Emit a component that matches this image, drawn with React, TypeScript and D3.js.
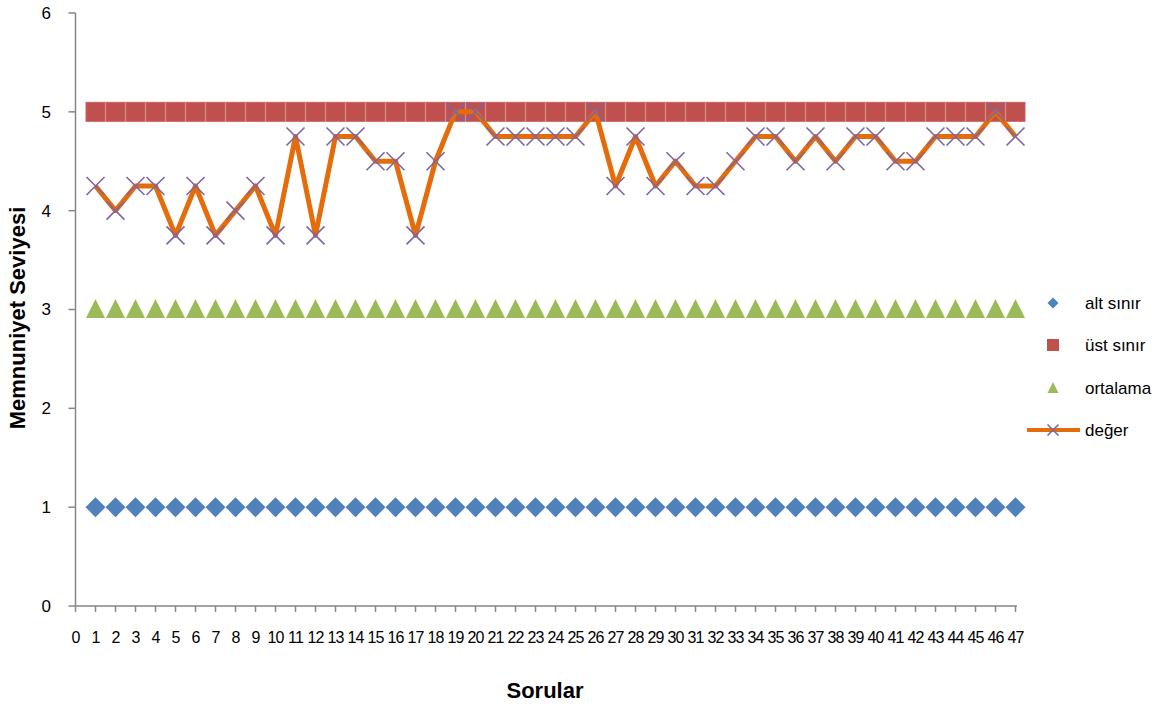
import { useEffect } from "react";
import * as d3 from "d3";

const questions = d3.range(1, 48);
const xTickLabels = d3.range(0, 48);
const yTickLabels = [0, 1, 2, 3, 4, 5, 6];

const altSinir = questions.map(() => 1);
const ustSinir = questions.map(() => 5);
const ortalama = questions.map(() => 3);
const deger = [
  4.25, 4.0, 4.25, 4.25, 3.75, 4.25, 3.75, 4.0, 4.25, 3.75,
  4.75, 3.75, 4.75, 4.75, 4.5, 4.5, 3.75, 4.5, 5.0, 5.0,
  4.75, 4.75, 4.75, 4.75, 4.75, 5.0, 4.25, 4.75, 4.25, 4.5,
  4.25, 4.25, 4.5, 4.75, 4.75, 4.5, 4.75, 4.5, 4.75, 4.75,
  4.5, 4.5, 4.75, 4.75, 4.75, 5.0, 4.75,
];

const seriesNames = ["alt sınır", "üst sınır", "ortalama", "değer"];

const BLUE = "#4F81BD";
const RED = "#C0504D";
const GREEN = "#9BBB59";
const ORANGE = "#E46C0A";
const PURPLE = "#8064A2";
const AXIS = "#868686";
const FONT = "'Liberation Sans', Arial, sans-serif";

const W = 1170;
const H = 708;

export default function App() {
  useEffect(() => {
    document.body.style.margin = "0";
  }, []);

  const x = d3.scaleLinear().domain([0, 47]).range([75.5, 1015.5]);
  const y = d3.scaleLinear().domain([0, 6]).range([606, 13]);

  const line = d3
    .line<number>()
    .x((_, i) => x(questions[i]))
    .y((d) => y(d));

  const diamond = (cx: number, cy: number, r: number) =>
    `M${cx},${cy - r}L${cx + r},${cy}L${cx},${cy + r}L${cx - r},${cy}Z`;
  const triangle = (cx: number, cy: number, s: number) =>
    `M${cx},${cy - s * 0.55}L${cx + s / 2},${cy + s * 0.45}L${cx - s / 2},${cy + s * 0.45}Z`;
  const cross = (cx: number, cy: number, r: number) =>
    `M${cx - r},${cy - r}L${cx + r},${cy + r}M${cx - r},${cy + r}L${cx + r},${cy - r}`;

  const legendX = 1053;
  const legendRows = [303, 345, 388, 430];

  return (
    <svg width={W} height={H} style={{ display: "block", background: "#fff" }}>
      {/* axes */}
      <line x1={x(0)} x2={x(0)} y1={y(6)} y2={y(0)} stroke={AXIS} strokeWidth={1.5} />
      <line x1={x(0)} x2={1017} y1={y(0)} y2={y(0)} stroke={AXIS} strokeWidth={1.5} />
      {yTickLabels.map((t) => (
        <g key={"yt" + t}>
          <line x1={x(0) - 7} x2={x(0)} y1={y(t)} y2={y(t)} stroke={AXIS} strokeWidth={1.5} />
          <text
            x={51}
            y={y(t)}
            dy="0.35em"
            textAnchor="end"
            fontFamily={FONT}
            fontSize={17}
            fill="#000"
          >
            {t}
          </text>
        </g>
      ))}
      {xTickLabels.map((t) => (
        <g key={"xt" + t}>
          <line x1={x(t)} x2={x(t)} y1={y(0)} y2={y(0) + 6} stroke={AXIS} strokeWidth={1.5} />
          <text
            x={x(t)}
            y={643}
            textAnchor="middle"
            fontFamily={FONT}
            fontSize={16}
            letterSpacing={-0.9}
            fill="#000"
          >
            {t}
          </text>
        </g>
      ))}

      {/* axis titles */}
      <text
        x={545}
        y={698}
        textAnchor="middle"
        fontFamily={FONT}
        fontWeight="bold"
        fontSize={22}
        fill="#000"
      >
        Sorular
      </text>
      <text
        transform={`translate(25,318) rotate(-90)`}
        textAnchor="middle"
        fontFamily={FONT}
        fontWeight="bold"
        fontSize={22}
        fill="#000"
      >
        Memnuniyet Seviyesi
      </text>

      {/* alt sınır */}
      {altSinir.map((v, i) => (
        <path key={"a" + i} d={diamond(x(questions[i]), y(v), 10)} fill={BLUE} />
      ))}
      {/* üst sınır */}
      {ustSinir.map((v, i) => (
        <rect
          key={"u" + i}
          x={x(questions[i]) - 9.5}
          y={y(v) - 9.5}
          width={19}
          height={19}
          fill={RED}
          stroke="#C9625F"
          strokeWidth={1}
        />
      ))}
      {/* ortalama */}
      {ortalama.map((v, i) => (
        <path key={"o" + i} d={triangle(x(questions[i]), y(v), 19)} fill={GREEN} />
      ))}
      {/* değer */}
      <path d={line(deger) || ""} fill="none" stroke={ORANGE} strokeWidth={5} strokeLinejoin="round" />
      {deger.map((v, i) => (
        <path
          key={"d" + i}
          d={cross(x(questions[i]), y(v), 9)}
          stroke={PURPLE}
          strokeWidth={1.6}
          fill="none"
        />
      ))}

      {/* legend */}
      <path d={diamond(legendX, legendRows[0], 5.5)} fill={BLUE} />
      <rect x={legendX - 6} y={legendRows[1] - 6} width={12} height={12} fill={RED} />
      <path d={triangle(legendX, legendRows[2], 11)} fill={GREEN} />
      <line x1={1027} x2={1080} y1={legendRows[3]} y2={legendRows[3]} stroke={ORANGE} strokeWidth={4} />
      <path d={cross(legendX, legendRows[3], 5.5)} stroke={PURPLE} strokeWidth={1.6} fill="none" />
      {seriesNames.map((n, i) => (
        <text
          key={n}
          x={1085}
          y={legendRows[i]}
          dy="0.35em"
          fontFamily={FONT}
          fontSize={17}
          fill="#000"
        >
          {n}
        </text>
      ))}
    </svg>
  );
}
